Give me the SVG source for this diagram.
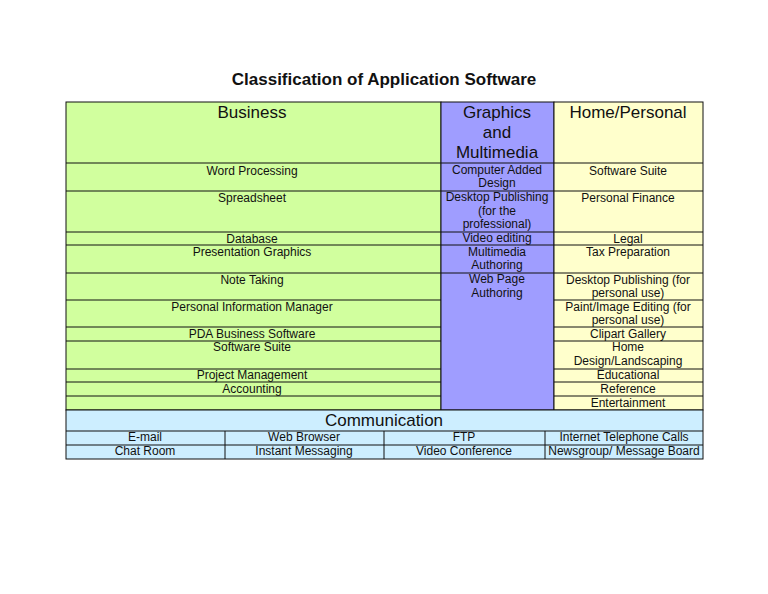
<svg xmlns="http://www.w3.org/2000/svg" width="768" height="594" viewBox="0 0 768 594">
<style>
text{font-family:"Liberation Sans",Arial,sans-serif;fill:#111;text-anchor:middle}
.c{font-size:12px}
.h{font-size:17px}
.t{font-size:17px;font-weight:bold}
line{stroke:#111;stroke-width:1}
</style>
<rect width="768" height="594" fill="#fff"/>
<text class="t" x="384" y="85">Classification of Application Software</text>
<g id="business">
<rect x="66" y="102" width="375" height="308" fill="#d1ff9e" stroke="#111"/>
<text class="h" x="252" y="118">Business</text>
<text class="c" x="252" y="175">Word Processing</text>
<text class="c" x="252" y="202">Spreadsheet</text>
<text class="c" x="252" y="243">Database</text>
<text class="c" x="252" y="256">Presentation Graphics</text>
<text class="c" x="252" y="284">Note Taking</text>
<text class="c" x="252" y="311">Personal Information Manager</text>
<text class="c" x="252" y="338">PDA Business Software</text>
<text class="c" x="252" y="351">Software Suite</text>
<text class="c" x="252" y="379">Project Management</text>
<text class="c" x="252" y="393">Accounting</text>
</g>
<g id="graphics">
<rect x="441" y="102" width="113" height="308" fill="#9f9dff" stroke="#111"/>
<text class="h" x="497" y="118">Graphics</text>
<text class="h" x="497" y="138">and</text>
<text class="h" x="497" y="158">Multimedia</text>
<text class="c" x="497" y="174">Computer Added</text>
<text class="c" x="497" y="187">Design</text>
<text class="c" x="497" y="201">Desktop Publishing</text>
<text class="c" x="497" y="215">(for the</text>
<text class="c" x="497" y="228">professional)</text>
<text class="c" x="497" y="242">Video editing</text>
<text class="c" x="497" y="256">Multimedia</text>
<text class="c" x="497" y="269">Authoring</text>
<text class="c" x="497" y="283">Web Page</text>
<text class="c" x="497" y="297">Authoring</text>
</g>
<g id="home">
<rect x="554" y="102" width="149" height="308" fill="#ffffcc" stroke="#111"/>
<text class="h" x="628" y="118">Home/Personal</text>
<text class="c" x="628" y="175">Software Suite</text>
<text class="c" x="628" y="202">Personal Finance</text>
<text class="c" x="628" y="243">Legal</text>
<text class="c" x="628" y="256">Tax Preparation</text>
<text class="c" x="628" y="284">Desktop Publishing (for</text>
<text class="c" x="628" y="297">personal use)</text>
<text class="c" x="628" y="311">Paint/Image Editing (for</text>
<text class="c" x="628" y="324">personal use)</text>
<text class="c" x="628" y="338">Clipart Gallery</text>
<text class="c" x="628" y="351">Home</text>
<text class="c" x="628" y="365">Design/Landscaping</text>
<text class="c" x="628" y="379">Educational</text>
<text class="c" x="628" y="393">Reference</text>
<text class="c" x="628" y="407">Entertainment</text>
</g>
<g id="communication">
<rect x="66" y="410" width="637" height="49" fill="#cdeeff" stroke="#111"/>
<text class="h" x="384" y="426">Communication</text>
<text class="c" x="145" y="441">E-mail</text>
<text class="c" x="145" y="455">Chat Room</text>
<text class="c" x="304" y="441">Web Browser</text>
<text class="c" x="304" y="455">Instant Messaging</text>
<text class="c" x="464" y="441">FTP</text>
<text class="c" x="464" y="455">Video Conference</text>
<text class="c" x="624" y="441">Internet Telephone Calls</text>
<text class="c" x="624" y="455">Newsgroup/ Message Board</text>
</g>
<g id="connectors">
<line x1="66" y1="163" x2="703" y2="163"/>
<line x1="66" y1="191" x2="703" y2="191"/>
<line x1="66" y1="232" x2="703" y2="232"/>
<line x1="66" y1="245" x2="703" y2="245"/>
<line x1="66" y1="273" x2="703" y2="273"/>
<line x1="66" y1="300" x2="441" y2="300"/><line x1="554" y1="300" x2="703" y2="300"/>
<line x1="66" y1="327" x2="441" y2="327"/><line x1="554" y1="327" x2="703" y2="327"/>
<line x1="66" y1="341" x2="441" y2="341"/><line x1="554" y1="341" x2="703" y2="341"/>
<line x1="66" y1="369" x2="441" y2="369"/><line x1="554" y1="369" x2="703" y2="369"/>
<line x1="66" y1="382" x2="441" y2="382"/><line x1="554" y1="382" x2="703" y2="382"/>
<line x1="66" y1="396" x2="441" y2="396"/><line x1="554" y1="396" x2="703" y2="396"/>
<line x1="66" y1="431" x2="703" y2="431"/>
<line x1="66" y1="445" x2="703" y2="445"/>
<line x1="225" y1="431" x2="225" y2="459"/>
<line x1="384" y1="431" x2="384" y2="459"/>
<line x1="545" y1="431" x2="545" y2="459"/>
</g>
</svg>
